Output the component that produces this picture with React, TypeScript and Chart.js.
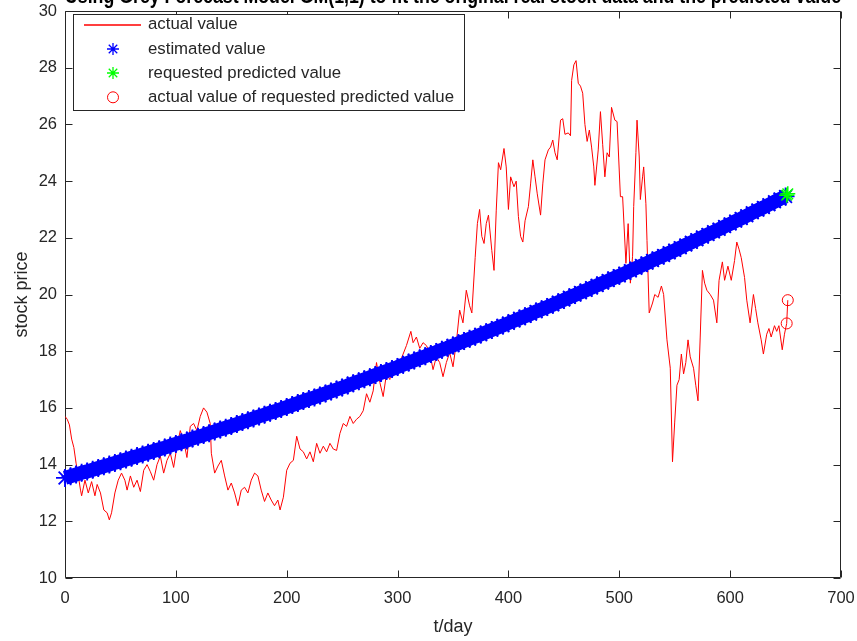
import React, { useEffect, useRef } from 'react';
import { Chart, registerables } from 'chart.js';

Chart.register(...registerables);

const TITLE = 'Using Grey Forecast Model GM(1,1) to fit the original real stock data and the predicted value';
const X_LABEL = 't/day';
const Y_LABEL = 'stock price';
const LEGEND_LABELS = [
  'actual value',
  'estimated value',
  'requested predicted value',
  'actual value of requested predicted value',
];

const xTicks = [0, 100, 200, 300, 400, 500, 600, 700];
const yTicks = [10, 12, 14, 16, 18, 20, 22, 24, 26, 28, 30];

const actualDays = [
  0, 2, 4, 6, 8, 10, 12, 14, 15, 18, 21, 24, 27, 29, 32, 35, 38, 40, 42, 45, 48, 51, 54, 56, 59, 62, 65, 68, 71, 74,
  77, 80, 83, 86, 89, 92, 95, 98, 101, 104, 107, 110, 113, 116, 119, 122, 125, 128, 131, 132, 135, 138, 141, 144, 147,
  150, 153, 156, 159, 162, 165, 168, 171, 174, 177, 180, 183, 186, 189, 192, 194, 197, 200, 203, 206, 209, 212, 215,
  218, 221, 224, 227, 230, 233, 236, 239, 242, 245, 248, 251, 254, 257, 260, 263, 266, 269, 272, 275, 278, 281, 284,
  287, 290, 293, 296, 299, 302, 305, 308, 312, 314, 317, 320, 323, 326, 329, 332, 335, 338, 341, 344, 347, 350, 353,
  356, 359, 362, 365, 367, 370, 372, 374, 376, 378, 380, 382, 385, 387, 389, 391, 393, 396, 398, 400, 402, 405, 407,
  409, 411, 413, 415, 418, 420, 422, 424, 426, 429, 431, 433, 436, 438, 440, 442, 444, 447, 449, 451, 454, 456, 457,
  459, 461, 463, 465, 467, 469, 471, 473, 475, 477, 478, 481, 483, 485, 487, 489, 491, 493, 496, 498, 501, 503, 506,
  508, 510, 512, 513, 515, 516, 518, 519, 521, 522, 524, 525, 527, 530, 532, 535, 538, 540, 543, 546, 548, 550, 552,
  554, 556, 558, 560, 562, 564, 567, 569, 571, 573, 575, 577, 579, 582, 585, 588, 590, 593, 595, 598, 601, 604, 606,
  608, 610, 613, 615, 618, 621, 623, 625, 628, 630, 633, 635, 637, 640, 642, 644, 647, 649, 651, 652,
];
const actualValues = [
  15.7, 15.6, 15.4, 14.9, 14.6, 14.05, 13.6, 13.1, 12.9, 13.45, 13.0, 13.4, 12.9, 13.3, 13.0, 12.4, 12.3, 12.05, 12.3,
  13.0, 13.45, 13.7, 13.45, 13.1, 13.6, 13.2, 13.45, 13.05, 13.8, 14.0, 13.75, 13.45, 14.0, 14.3, 13.7, 14.15, 14.4,
  13.9, 14.65, 15.2, 14.85, 14.25, 15.35, 15.45, 15.2, 15.7, 16.0, 15.85, 15.45, 14.4, 13.7, 13.95, 14.15, 13.6, 13.1,
  13.35, 13.0, 12.55, 13.1, 13.2, 13.0, 13.45, 13.7, 13.6, 13.1, 12.7, 13.0, 12.75, 12.55, 12.75, 12.4, 12.85, 13.8,
  14.05, 14.15, 15.0, 14.55, 14.45, 14.2, 14.45, 14.1, 14.75, 14.4, 14.65, 14.45, 14.75, 14.55, 14.5, 15.1, 15.45,
  15.35, 15.7, 15.45, 15.6, 15.7, 15.9, 16.5, 16.2, 16.6, 17.6, 16.9, 16.4, 17.2, 17.0, 17.5, 17.3, 17.6, 17.9, 18.2,
  18.7, 18.3, 18.5, 18.1, 18.3, 18.2, 17.95, 17.35, 17.8, 17.6, 17.1, 17.6, 17.95, 17.45, 18.3, 19.45, 19.0, 20.15,
  19.6, 19.35, 21.3, 22.5, 23.0, 22.05, 21.8, 22.5, 22.8, 21.55, 20.85, 22.95, 24.65, 24.4, 25.15, 24.5, 23.0, 24.15,
  23.8, 24.0, 22.75, 22.05, 21.85, 22.6, 23.1, 23.9, 24.75, 24.15, 23.55, 22.8, 23.9, 24.75, 25.1, 25.2, 25.45, 25.0,
  24.75, 26.15, 26.2, 25.65, 25.7, 25.6, 27.55, 28.1, 28.25, 27.45, 27.35, 27.1, 26.0, 25.4, 25.8, 25.2, 24.5, 23.85,
  25.1, 26.45, 25.3, 24.15, 25.0, 24.85, 26.6, 26.15, 26.1, 23.45, 23.45, 21.1, 22.5, 20.4, 21.35, 23.1, 25.0, 26.15,
  24.85, 23.35, 24.15, 24.5, 23.2, 21.9, 19.35, 19.7, 20.0, 19.9, 20.3, 20.0, 18.4, 17.4, 14.1, 15.5, 16.8, 17.0, 17.9,
  17.2, 17.6, 18.4, 17.8, 17.4, 16.8, 16.25, 18.5, 20.85, 20.4, 20.15, 20.0, 19.8, 19.0, 20.5, 21.15, 20.5, 21.0, 20.5,
  21.2, 21.85, 21.6, 21.3, 20.6, 19.8, 19.0, 20.0, 19.5, 19.0, 18.4, 17.9, 18.6, 18.8, 18.5, 18.9, 18.7, 18.9, 18.05,
  18.6, 18.98, 19.8,
];

const estimatedStepDays = 5;
const estimatedValues = [
  13.53, 13.59, 13.65, 13.71, 13.76, 13.82, 13.88, 13.94, 14.0, 14.06,
  14.12, 14.18, 14.24, 14.3, 14.36, 14.42, 14.48, 14.54, 14.6, 14.67,
  14.73, 14.79, 14.85, 14.92, 14.98, 15.04, 15.11, 15.17, 15.24, 15.3,
  15.36, 15.43, 15.5, 15.56, 15.63, 15.7, 15.76, 15.83, 15.89, 15.96,
  16.03, 16.1, 16.17, 16.24, 16.31, 16.37, 16.44, 16.51, 16.58, 16.65,
  16.72, 16.79, 16.87, 16.94, 17.01, 17.08, 17.16, 17.23, 17.3, 17.37,
  17.44, 17.52, 17.6, 17.67, 17.75, 17.82, 17.9, 17.97, 18.05, 18.12,
  18.2, 18.28, 18.36, 18.44, 18.51, 18.59, 18.67, 18.75, 18.83, 18.91,
  18.99, 19.07, 19.15, 19.23, 19.31, 19.4, 19.48, 19.56, 19.64, 19.73,
  19.81, 19.9, 19.98, 20.07, 20.15, 20.24, 20.32, 20.41, 20.49, 20.58,
  20.66, 20.75, 20.84, 20.93, 21.02, 21.11, 21.2, 21.29, 21.38, 21.47,
  21.56, 21.65, 21.75, 21.84, 21.93, 22.03, 22.12, 22.21, 22.3, 22.4,
  22.49, 22.59, 22.68, 22.78, 22.88, 22.98, 23.07, 23.17, 23.27, 23.37,
  23.46,
];

const requestedDays = [651, 652];
const requestedPredictedValues = [23.5, 23.55];
const requestedActualValues = [18.98, 19.8];

const AXIS_COLOR = '#262626';
const FONT = "'Liberation Sans', Arial, Helvetica, sans-serif";
const TOP_SHIFT = 16;

function drawStar(ctx: CanvasRenderingContext2D, x: number, y: number, r: number) {
  for (let k = 0; k < 4; k++) {
    const a = (k * Math.PI) / 4;
    ctx.moveTo(x - Math.cos(a) * r, y - Math.sin(a) * r);
    ctx.lineTo(x + Math.cos(a) * r, y + Math.sin(a) * r);
  }
}

const frameTicksPlugin = {
  id: 'frameTicks',
  beforeDatasetsDraw(chart: any) {
    const { ctx, chartArea, scales } = chart;
    const l = Math.round(chartArea.left) + 0.5;
    const r = Math.round(chartArea.right) - 0.5;
    const t = Math.round(chartArea.top) + 0.5;
    const b = Math.round(chartArea.bottom) - 0.5;
    ctx.save();
    ctx.strokeStyle = AXIS_COLOR;
    ctx.lineWidth = 1;
    ctx.beginPath();
    ctx.rect(l, t, r - l, b - t);
    const len = 7;
    scales.x.ticks.forEach((tk: any) => {
      const px = Math.round(scales.x.getPixelForValue(tk.value)) + 0.5;
      ctx.moveTo(px, b);
      ctx.lineTo(px, b - len);
      ctx.moveTo(px, t);
      ctx.lineTo(px, t + len);
    });
    scales.y.ticks.forEach((tk: any) => {
      const py = Math.round(scales.y.getPixelForValue(tk.value)) + 0.5;
      ctx.moveTo(l, py);
      ctx.lineTo(l + len, py);
      ctx.moveTo(r, py);
      ctx.lineTo(r - len, py);
    });
    ctx.stroke();
    ctx.restore();
  },
};

const legendBoxPlugin = {
  id: 'legendBox',
  afterDatasetsDraw(chart: any) {
    const { ctx } = chart;
    const box = { left: 73.5, top: 14.5 + TOP_SHIFT, right: 464.5, bottom: 110.5 + TOP_SHIFT };
    const rows = [24.5, 49, 73, 97.3].map((v) => v + TOP_SHIFT);
    ctx.save();
    ctx.fillStyle = '#ffffff';
    ctx.fillRect(box.left, box.top, box.right - box.left, box.bottom - box.top);
    ctx.strokeStyle = AXIS_COLOR;
    ctx.lineWidth = 1;
    ctx.strokeRect(box.left, box.top, box.right - box.left, box.bottom - box.top);

    const cx = 113;
    ctx.fillStyle = '#ff0000';
    ctx.fillRect(84, Math.round(rows[0]) - 0.75, 57, 1.5);

    ctx.lineWidth = 1.3;
    ctx.strokeStyle = '#0000ff';
    ctx.beginPath();
    drawStar(ctx, cx, rows[1], 6);
    ctx.stroke();

    ctx.strokeStyle = '#00ff00';
    ctx.beginPath();
    drawStar(ctx, cx, rows[2], 6);
    ctx.stroke();

    ctx.lineWidth = 1;
    ctx.strokeStyle = '#ff0000';
    ctx.beginPath();
    ctx.arc(cx, rows[3], 5.5, 0, Math.PI * 2);
    ctx.stroke();

    ctx.fillStyle = AXIS_COLOR;
    ctx.font = `16.8px ${FONT}`;
    ctx.textBaseline = 'middle';
    ctx.textAlign = 'left';
    LEGEND_LABELS.forEach((lab, i) => ctx.fillText(lab, 148, rows[i]));
    ctx.restore();
  },
};

export default function App() {
  const canvasRef = useRef<HTMLCanvasElement | null>(null);

  useEffect(() => {
    const canvas = canvasRef.current;
    if (!canvas) return;
    const actualData = actualDays.map((d, i) => ({ x: d, y: actualValues[i] }));
    const estimatedData = estimatedValues.map((v, i) => ({ x: i * estimatedStepDays, y: v }));
    const predictedData = requestedDays.map((d, i) => ({ x: d, y: requestedPredictedValues[i] }));
    const reqActualData = requestedDays.map((d, i) => ({ x: d, y: requestedActualValues[i] }));

    const chart = new Chart(canvas, {
      type: 'scatter',
      data: {
        datasets: [
          {
            label: LEGEND_LABELS[0],
            type: 'line',
            data: actualData,
            borderColor: '#ff0000',
            backgroundColor: '#ff0000',
            borderWidth: 1,
            pointRadius: 0,
            tension: 0,
            fill: false,
            order: 4,
          } as any,
          {
            label: LEGEND_LABELS[1],
            type: 'line',
            data: estimatedData,
            showLine: true,
            borderColor: '#0000ff',
            backgroundColor: '#0000ff',
            borderWidth: 14,
            tension: 0,
            fill: false,
            pointStyle: 'star',
            pointRadius: 9,
            pointBorderWidth: 1.8,
            pointBorderColor: '#0000ff',
            pointBackgroundColor: '#0000ff',
            order: 3,
            clip: false,
          } as any,
          {
            label: LEGEND_LABELS[2],
            data: predictedData,
            pointStyle: 'star',
            pointRadius: 7.5,
            borderColor: '#00ff00',
            backgroundColor: '#00ff00',
            borderWidth: 1.5,
            order: 2,
            clip: false,
          },
          {
            label: LEGEND_LABELS[3],
            data: reqActualData,
            pointStyle: 'circle',
            pointRadius: 5.5,
            borderColor: '#ff0000',
            backgroundColor: 'rgba(0,0,0,0)',
            borderWidth: 1,
            order: 1,
            clip: false,
          },
        ],
      },
      options: {
        animation: false,
        responsive: false,
        devicePixelRatio: 1,
        layout: { padding: { left: 0, right: 16, top: 0, bottom: 0 } },
        plugins: {
          legend: { display: false },
          tooltip: { enabled: false },
          title: {
            display: true,
            text: TITLE,
            fullSize: false,
            color: '#000000',
            font: { family: FONT, size: 22, weight: 'bold' },
            padding: { top: 0, bottom: 0.6 },
          },
        },
        scales: {
          x: {
            type: 'linear',
            min: 0,
            max: 700,
            afterBuildTicks: (s: any) => {
              s.ticks = xTicks.map((v) => ({ value: v }));
            },
            afterFit: (s: any) => {
              s.height = 63;
              s.paddingLeft = 0;
              s.paddingRight = 0;
            },
            ticks: {
              color: AXIS_COLOR,
              font: { family: FONT, size: 16.5 },
              padding: 11,
              maxRotation: 0,
              autoSkip: false,
            },
            grid: { display: false, drawTicks: false },
            border: { display: false },
            title: {
              display: true,
              text: X_LABEL,
              color: AXIS_COLOR,
              font: { family: FONT, size: 18 },
              padding: { top: 3, bottom: 3 },
            },
          },
          y: {
            type: 'linear',
            min: 10,
            max: 30,
            afterBuildTicks: (s: any) => {
              s.ticks = yTicks.map((v) => ({ value: v }));
            },
            afterFit: (s: any) => {
              s.width = 65;
              s.paddingTop = 0;
              s.paddingBottom = 0;
            },
            ticks: {
              color: AXIS_COLOR,
              font: { family: FONT, size: 16.5 },
              padding: 8,
              autoSkip: false,
            },
            grid: { display: false, drawTicks: false },
            border: { display: false },
            title: {
              display: true,
              text: Y_LABEL,
              color: AXIS_COLOR,
              font: { family: FONT, size: 18 },
              padding: { top: 11, bottom: 11 },
            },
          },
        },
      },
      plugins: [frameTicksPlugin, legendBoxPlugin],
    });

    return () => {
      chart.destroy();
    };
  }, []);

  return (
    <div style={{ position: 'absolute', left: 0, top: -TOP_SHIFT, width: 857, height: 641 + TOP_SHIFT }}>
      <canvas ref={canvasRef} width={857} height={641 + TOP_SHIFT} style={{ display: 'block' }} />
    </div>
  );
}
